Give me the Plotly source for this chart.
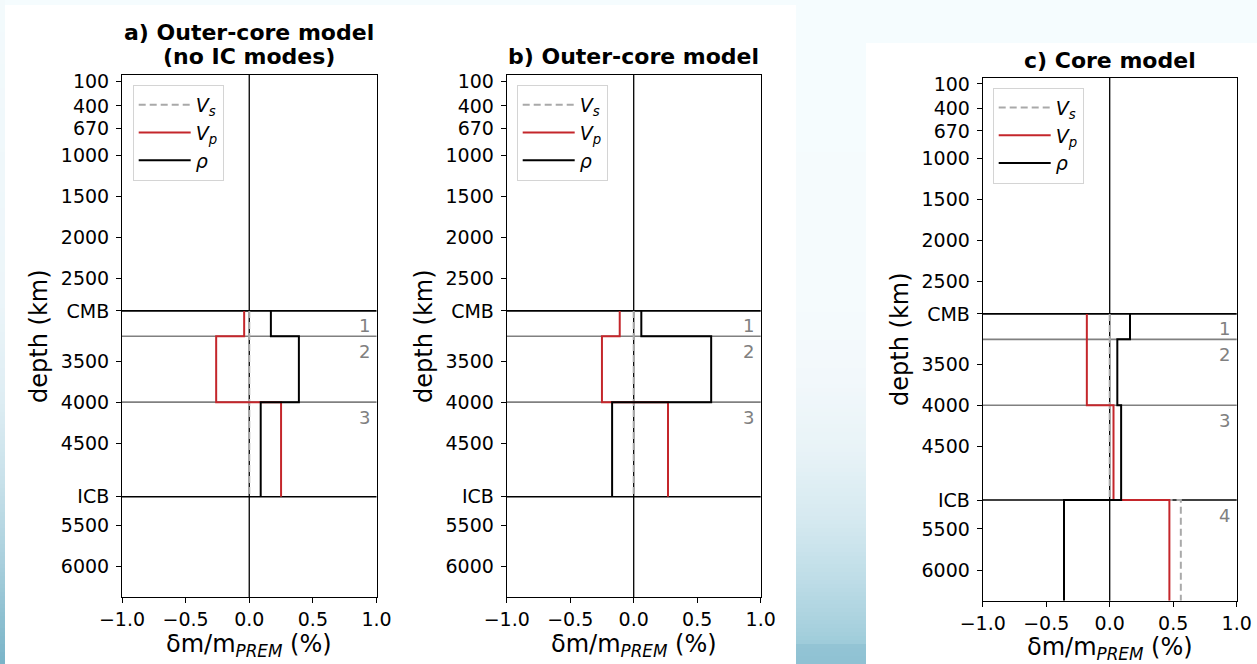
import plotly.graph_objects as go

W, H = 1257, 664
FONT = "DejaVu Sans"

# Radial structure (depth in km)
CMB_DEPTH = 2891
ICB_DEPTH = 5150
CENTRE_DEPTH = 6371
OC_SPLIT_1 = 3200
OC_SPLIT_2 = 4000

depth_ticks = [100, 400, 670, 1000, 1500, 2000, 2500, CMB_DEPTH, 3500, 4000, 4500, ICB_DEPTH, 5500, 6000]
depth_ticktext = ["100", "400", "670", "1000", "1500", "2000", "2500", "CMB",
                  "3500", "4000", "4500", "ICB", "5500", "6000"]
x_ticks = [-1.0, -0.5, 0.0, 0.5, 1.0]
x_ticktext = ["\u22121.0", "\u22120.5", "0.0", "0.5", "1.0"]

layer_tops = [CMB_DEPTH, OC_SPLIT_1, OC_SPLIT_2, ICB_DEPTH]
layer_bottoms = [OC_SPLIT_1, OC_SPLIT_2, ICB_DEPTH, CENTRE_DEPTH]
layer_names = ["1", "2", "3", "4"]

# Per-layer perturbations relative to PREM (%)
a_vs = [0.0, 0.0, 0.0]
a_vp = [-0.04, -0.26, 0.25]
a_rho = [0.17, 0.39, 0.09]

b_vs = [0.0, 0.0, 0.0]
b_vp = [-0.11, -0.25, 0.27]
b_rho = [0.06, 0.61, -0.17]

c_vs = [0.0, 0.0, 0.0, 0.56]
c_vp = [-0.18, -0.18, 0.03, 0.47]
c_rho = [0.16, 0.06, 0.09, -0.36]

titles = [["a) Outer-core model", "(no IC modes)"], ["b) Outer-core model"], ["c) Core model"]]
x_label = "\u03b4m/m<sub><i>PREM</i></sub> (%)"
y_label = "depth (km)"

VS_COLOR = "#a9a9a9"
VP_COLOR = "#c4262b"
RHO_COLOR = "#000000"


def step_profile(values):
    """Turn per-layer constants into a piecewise-constant depth profile."""
    xs, ys = [], []
    for v, top, bot in zip(values, layer_tops, layer_bottoms):
        xs += [v, v]
        ys += [top, bot]
    return xs, ys


# Panel frames in pixels: (left, right, top, bottom)
frames = [(122, 376.5, 75, 597.3), (506.7, 760.7, 75, 597.3), (982.7, 1236.7, 77.7, 600.7)]
legend_pos = [(132.7, 85), (516.7, 85), (992.7, 87.7)]
title_y = [[32.5, 56.5], [57], [60]]
xlabel_gap = 48  # px from the bottom spine to the x-label centre

panels = [(a_vs, a_vp, a_rho), (b_vs, b_vp, b_rho), (c_vs, c_vp, c_rho)]

fig = go.Figure()
shapes = []
annotations = []


def px_x(x):
    return x / W


def px_y(y):
    return 1 - y / H


def lerp_color(stops, y):
    for (y0, c0), (y1, c1) in zip(stops[:-1], stops[1:]):
        if y0 <= y <= y1:
            t = 0 if y1 == y0 else (y - y0) / (y1 - y0)
            c = [round(a + (b - a) * t) for a, b in zip(c0, c1)]
            return "rgb(%d,%d,%d)" % tuple(c)
    c = stops[-1][1]
    return "rgb(%d,%d,%d)" % tuple(c)


# Page backdrop: soft blue gradient strips around two white cards
mid_stops = [(0, (245, 252, 254)), (300, (245, 251, 253)), (380, (242, 248, 251)),
             (450, (232, 243, 247)), (520, (213, 233, 240)), (580, (190, 221, 231)),
             (630, (166, 208, 221)), (643, (158, 204, 218)), (645, (147, 196, 212)),
             (664, (143, 193, 211))]
left_stops = [(0, (243, 250, 252)), (300, (236, 245, 249)), (400, (222, 237, 243)),
              (480, (200, 225, 234)), (560, (170, 208, 221)), (620, (140, 191, 208)),
              (664, (122, 180, 200))]
band = 4
for (x0, x1, stops) in [(0, 5, left_stops), (796, 866, mid_stops)]:
    for y0 in range(0, H, band):
        col = lerp_color(stops, y0 + band / 2)
        shapes.append(dict(type="rect", xref="paper", yref="paper", layer="below",
                           x0=px_x(x0), x1=px_x(x1), y0=px_y(y0 + band), y1=px_y(y0),
                           fillcolor=col, line=dict(width=0)))
for (x0, x1, y0, y1) in [(5, 796, 5, 664), (866, 1257, 43, 664)]:
    shapes.append(dict(type="rect", xref="paper", yref="paper", layer="below",
                       x0=px_x(x0), x1=px_x(x1), y0=px_y(y1), y1=px_y(y0),
                       fillcolor="white", line=dict(width=0)))

for i, ((vs, vp, rho), (l, r, t, b)) in enumerate(zip(panels, frames)):
    k = "" if i == 0 else str(i + 1)
    xa, ya = "x" + k, "y" + k
    leg = "legend" + k
    n = len(vp)

    for name, vals, color, dash in [("<i>V</i><sub><i>s</i></sub>", vs, VS_COLOR, "7px,4px"),
                                    ("<i>V</i><sub><i>p</i></sub>", vp, VP_COLOR, "solid"),
                                    ("<i>\u03c1</i>", rho, RHO_COLOR, "solid")]:
        xs, ys = step_profile(vals)
        fig.add_trace(go.Scatter(x=xs, y=ys, mode="lines", name=name,
                                 line=dict(color=color, width=2, dash=dash),
                                 xaxis=xa, yaxis=ya, legend=leg, legendgroup=f"{leg}-{name}",
                                 hoverinfo="skip"))

    # Reference lines: zero perturbation, CMB/ICB and inner layer boundaries
    shapes.append(dict(type="line", xref=xa, yref=ya + " domain", layer="below",
                       x0=0, x1=0, y0=0, y1=1, line=dict(color="black", width=1.3)))
    for d in [CMB_DEPTH, ICB_DEPTH]:
        shapes.append(dict(type="line", xref=xa + " domain", yref=ya, layer="below",
                           x0=0, x1=1, y0=d, y1=d, line=dict(color="black", width=1.6)))
    for d in [OC_SPLIT_1, OC_SPLIT_2]:
        shapes.append(dict(type="line", xref=xa + " domain", yref=ya, layer="below",
                           x0=0, x1=1, y0=d, y1=d, line=dict(color="#808080", width=1.6)))

    for j in range(n):
        annotations.append(dict(x=0.845, y=layer_tops[j] + 30, xref=xa, yref=ya,
                                text=layer_names[j], showarrow=False, xanchor="left",
                                yanchor="top", font=dict(family=FONT, size=18, color="#808080")))

    cx = (l + r) / 2
    for line_txt, ty in zip(titles[i], title_y[i]):
        annotations.append(dict(x=px_x(cx), y=px_y(ty), xref="paper", yref="paper",
                                text="<b>" + line_txt + "</b>", showarrow=False,
                                xanchor="center", yanchor="middle",
                                font=dict(family=FONT, size=22, color="black")))

    # x-axis label placed under the tick labels
    annotations.append(dict(x=px_x(cx), y=px_y(b + xlabel_gap), xref="paper", yref="paper",
                            text=x_label, showarrow=False, xanchor="center", yanchor="middle",
                            font=dict(family=FONT, size=24, color="black")))

    axis_common = dict(showline=True, linecolor="black", linewidth=1, mirror=True,
                       ticks="outside", ticklen=5, tickwidth=1, tickcolor="black",
                       showgrid=False, zeroline=False, automargin=False,
                       tickfont=dict(family=FONT, size=19, color="black"))
    fig.update_layout(**{
        "xaxis" + k: dict(domain=[px_x(l), px_x(r)], range=[-1, 1], anchor=ya,
                          tickvals=x_ticks, ticktext=x_ticktext, ticklabelstandoff=0,
                          **axis_common),
        "yaxis" + k: dict(domain=[px_y(b), px_y(t)], range=[CENTRE_DEPTH, 25], anchor=xa,
                          tickvals=depth_ticks, ticktext=depth_ticktext, ticklabelstandoff=3,
                          title=dict(text=y_label, standoff=6,
                                     font=dict(family=FONT, size=24, color="black")),
                          **axis_common),
        leg: dict(x=px_x(legend_pos[i][0]), y=px_y(legend_pos[i][1]), xanchor="left",
                  yanchor="top", bgcolor="white", bordercolor="#d4d4d4", borderwidth=1,
                  font=dict(family=FONT, size=19, color="black"), tracegroupgap=7,
                  traceorder="normal", itemwidth=52),
    })

fig.update_layout(width=W, height=H, margin=dict(l=0, r=0, t=0, b=0, autoexpand=False),
                  paper_bgcolor="rgb(245,252,254)", plot_bgcolor="white",
                  shapes=shapes, annotations=annotations, font=dict(family=FONT))

fig.write_html("out.html")
